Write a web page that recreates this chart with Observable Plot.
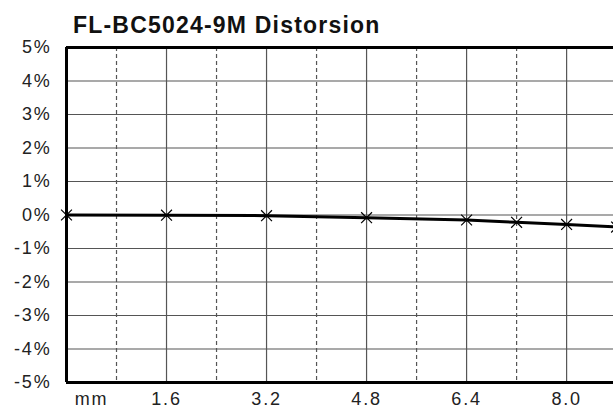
<!DOCTYPE html>
<html>
<head>
<meta charset="utf-8">
<script src="https://cdn.jsdelivr.net/npm/d3@7"></script>
<script src="https://cdn.jsdelivr.net/npm/@observablehq/plot@0.6"></script>
<style>
  html, body { margin: 0; padding: 0; overflow: hidden; background: #fff; }
  #title { height: 34px; box-sizing: border-box; padding-top: 14px; padding-left: 73px;
    font-family: "Liberation Sans", Arial, sans-serif; font-weight: bold; font-size: 23px;
    line-height: 23px; letter-spacing: 1.2px; color: #111; white-space: nowrap; overflow: visible; }
</style>
</head>
<body>
<div id="title">FL-BC5024-9M Distorsion</div>
<div id="chart"></div>
<script>
const titleText = "FL-BC5024-9M Distorsion";
// measured distortion (%) vs image height (mm)
const heightMm = [0, 1.6, 3.2, 4.8, 6.4, 7.2, 8.0, 8.8];
const distortion = [0, -0.005, -0.02, -0.08, -0.15, -0.22, -0.28, -0.36];
const yTicks = [-5, -4, -3, -2, -1, 0, 1, 2, 3, 4, 5];
const xSolidGrid = [1.6, 3.2, 4.8, 6.4, 8.0];
const xDashedGrid = [0.8, 2.4, 4.0, 5.6, 7.2];
const xTickValues = [0.4, 1.6, 3.2, 4.8, 6.4, 8.0];
const xTickLabels = ["mm", "1.6", "3.2", "4.8", "6.4", "8.0"];

const data = heightMm.map((x, i) => ({x, y: distortion[i]}));

const chart = Plot.plot({
  width: 613,
  height: 376,
  marginLeft: 66,
  marginRight: 0,
  marginTop: 13,
  marginBottom: 28,
  style: {fontFamily: "'Liberation Sans', Arial, sans-serif", fontSize: "18px", color: "#222", letterSpacing: "1.8px", background: "#fff"},
  x: {domain: [0, 8.75], label: null},
  y: {domain: [-5, 5], label: null},
  marks: [
    Plot.ruleY(yTicks, {stroke: "#555", strokeWidth: 1.2}),
    Plot.ruleX(xSolidGrid, {stroke: "#555", strokeWidth: 1.2}),
    Plot.ruleX(xDashedGrid, {stroke: "#555", strokeWidth: 1.2, strokeDasharray: "4,3"}),
    Plot.ruleY([-5, 5], {stroke: "#000", strokeWidth: 3}),
    Plot.ruleX([0], {stroke: "#000", strokeWidth: 3}),
    Plot.axisY(yTicks, {label: null, tickSize: 0, tickPadding: 15, tickFormat: d => d + "%"}),
    Plot.axisX(xTickValues, {label: null, tickSize: 0, tickPadding: 10, tickFormat: (d, i) => xTickLabels[i]}),
    Plot.line(data, {x: "x", y: "y", stroke: "#000", strokeWidth: 3}),
    Plot.dot(data, {x: "x", y: "y", symbol: "times", r: 5, stroke: "#000", strokeWidth: 1.2})
  ]
});
document.getElementById("chart").appendChild(chart);
</script>
</body>
</html>
